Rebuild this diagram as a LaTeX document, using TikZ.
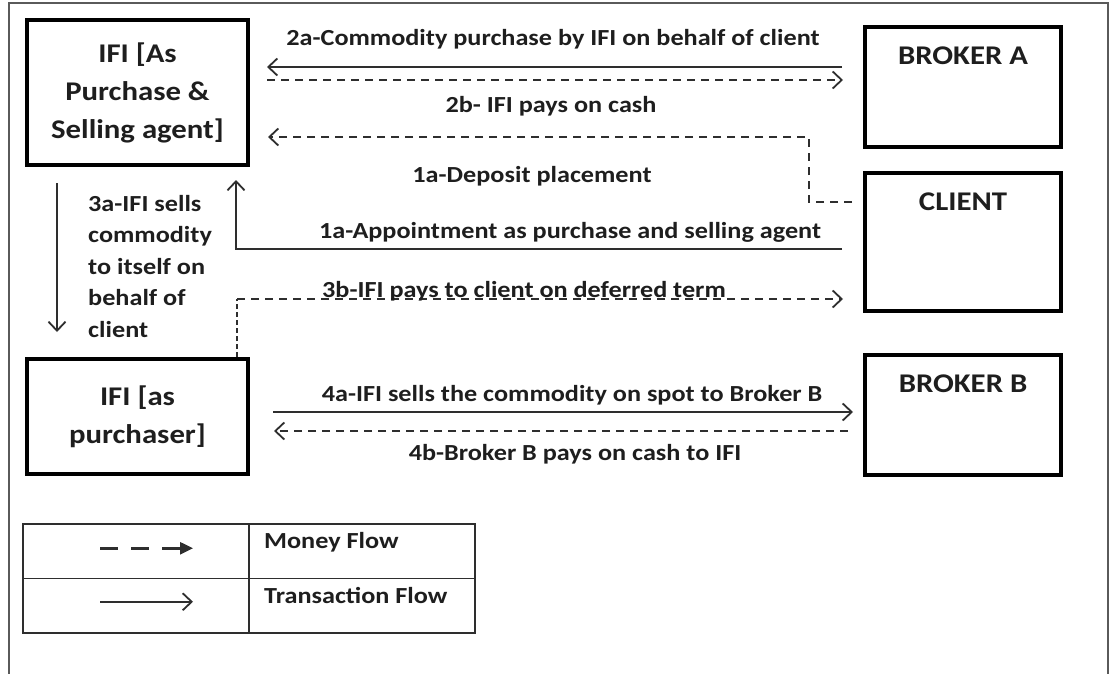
\documentclass[tikz,border=0pt]{standalone}
\usepackage{fontspec}
\setmainfont{Carlito}[FakeStretch=1.14]
\usetikzlibrary{arrows.meta,calc,positioning}
\definecolor{inkgray}{HTML}{1E1E1E}
\definecolor{linegray}{HTML}{2E2E2E}
\definecolor{framegray}{HTML}{5A5A5A}

\tikzset{
  party/.style={rectangle, draw=black, line width=4pt, minimum width=196pt, minimum height=120pt, inner sep=0pt, text=inkgray, font=\fontsize{27}{38}\selectfont\bfseries},
  partylabel/.style={anchor=north, yshift=-22pt, inner sep=0pt, text=inkgray, font=\fontsize{27}{38}\selectfont\bfseries},
  flowtext/.style={inner sep=0pt, text=inkgray, font=\fontsize{23}{31.5}\selectfont\bfseries},
  trans/.style={draw=linegray, line width=1.8pt, -{Straight Barb[length=9pt,width=17pt]}},
  money/.style={trans, dash pattern=on 8pt off 6pt},
  cell/.style={rectangle, draw=linegray, line width=1.5pt, minimum width=226pt, minimum height=54.5pt, inner sep=0pt},
}

\begin{document}
\begin{tikzpicture}[x=1pt, y=-1pt]
  \useasboundingbox (0,0) rectangle (1111,674);
  % outer frame, open at the bottom
  \draw[framegray, line width=2pt] (9,674) -- (9,3) -- (1108,3) -- (1108,674);

  % the parties
  \node[party, minimum width=221pt, minimum height=145pt, align=center] (ifiagent) at (137.5,92.5)
    {IFI [As\\Purchase \&\\Selling agent]};
  \node[party, minimum width=221pt, minimum height=115pt, align=center] (ifibuyer) at (137.5,416.5)
    {IFI [as\\purchaser]};
  \node[party, label={[partylabel]north:BROKER A}] (brokerA) at (963,87) {};
  \node[party, minimum height=138pt, label={[partylabel]north:CLIENT}] (client) at (963,242) {};
  \node[party, label={[partylabel]north:BROKER B}] (brokerB) at (963,415) {};

  % step 1
  \coordinate (bend2b) at (809,137);
  \draw[money, shorten <=11pt, shorten >=18pt] (client.west |- 0,202) -| (bend2b) -- (ifiagent.east |- bend2b);
  \draw[trans, shorten <=21pt, shorten >=13pt] (client.west |- 0,249) -| ([xshift=-14pt]ifiagent.south east);
  \node[flowtext] (lbldeposit) at (532,176) {1a-Deposit placement};
  \node[flowtext] (lblappoint) at (570,232) {1a-Appointment as purchase and selling agent};

  % step 2
  \draw[trans, shorten <=21pt, shorten >=17pt] (brokerA.west |- 0,67) -- (ifiagent.east |- 0,67);
  \draw[money, shorten <=17pt, shorten >=20pt] (ifiagent.east |- 0,80) -- (brokerA.west |- 0,80);
  \node[flowtext] (lbltwoa) at (553,39) {2a-Commodity purchase by IFI on behalf of client};
  \node[flowtext] (lbltwob) at (551,106) {2b- IFI pays on cash};

  % step 3
  \draw[trans, shorten <=16pt, shorten >=25pt] ([xshift=32pt]ifiagent.south west) -- ([xshift=32pt]ifibuyer.north west);
  \node[flowtext, align=left, anchor=north west] (lblthreea) at (88,195)
    {3a-IFI sells\\commodity\\to itself on\\behalf of\\client};
  \coordinate (bend3b) at (237,299);
  \draw[linegray, line width=1.2pt, dash pattern=on 5pt off 3pt] ([xshift=-13pt]ifibuyer.north east) -- (bend3b);
  \draw[money, shorten >=20pt] (bend3b) -- (client.west |- bend3b);
  \node[flowtext] (lblthreeb) at (524,291) {3b-IFI pays to client on deferred term};

  % step 4
  \draw[trans, shorten <=23pt, shorten >=10pt] (ifibuyer.east |- 0,412) -- (brokerB.west |- 0,412);
  \draw[money, shorten <=15pt, shorten >=24pt] (brokerB.west |- 0,431) -- (ifibuyer.east |- 0,431);
  \node[flowtext] (lblfoura) at (572,395) {4a-IFI sells the commodity on spot to Broker B};
  \node[flowtext] (lblfourb) at (575,454) {4b-Broker B pays on cash to IFI};

  % legend table
  \node[cell] (keymoney) at (136,551.25) {};
  \node[cell] (txtmoney) at (362,551.25) {};
  \node[cell] (keytrans) at (136,605.75) {};
  \node[cell] (txttrans) at (362,605.75) {};
  \draw[draw=linegray, line width=2.5pt, dash pattern=on 18pt off 13pt, -{Triangle[length=13pt,width=12pt]}]
    ([xshift=-36pt,yshift=3pt]keymoney.center) -- ([xshift=57pt,yshift=3pt]keymoney.center);
  \draw[trans] ([xshift=-36pt,yshift=4pt]keytrans.center) -- ([xshift=57pt,yshift=4pt]keytrans.center);
  \node[flowtext, anchor=west] (lblmoney) at (264,542) {Money Flow};
  \node[flowtext, anchor=west] (lbltrans) at (264,595) {Transaction Flow};
\end{tikzpicture}
\end{document}
